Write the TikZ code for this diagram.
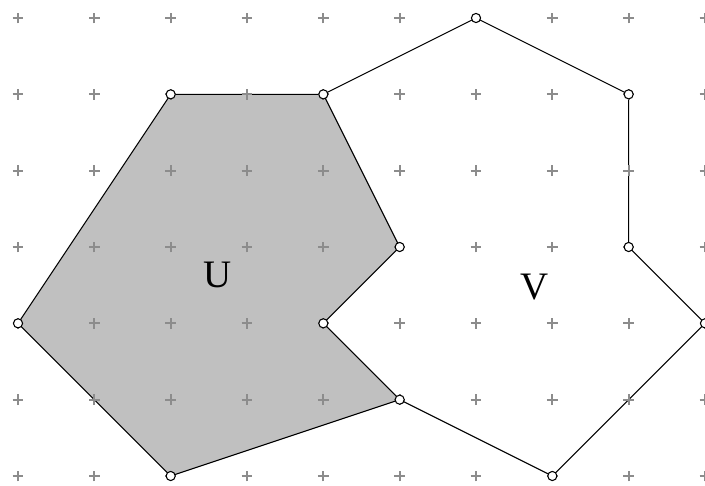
\documentclass[tikz,border=0pt]{standalone}
\usepackage{fontspec}
\setmainfont{Liberation Serif}
\definecolor{ufill}{RGB}{192,192,192}
\definecolor{plusgray}{RGB}{140,140,140}
\begin{document}
\begin{tikzpicture}[x=1cm,y=1cm,
  vtx/.style={circle,draw=black,fill=white,inner sep=0pt,minimum size=0.12cm,line width=0.4pt},
  edge/.style={draw=black,line width=0.4pt},
  plusmark/.style={draw=plusgray,line width=0.7pt},
  lbl/.style={font=\fontsize{14.5}{16}\selectfont,inner sep=0pt}]
\useasboundingbox (-0.236,-0.131) rectangle (9.0,6.236);
% vertex coordinates (column i, row from bottom)
\coordinate (a) at (2,5);
\coordinate (b) at (4,5);
\coordinate (c) at (5,3);
\coordinate (d) at (4,2);
\coordinate (e) at (5,1);
\coordinate (f) at (2,0);
\coordinate (g) at (0,2);
\coordinate (h) at (6,6);
\coordinate (k) at (8,5);
\coordinate (l) at (8,3);
\coordinate (m) at (9,2);
\coordinate (n) at (7,0);
% shaded region U
\fill[ufill] (a) -- (b) -- (c) -- (d) -- (e) -- (f) -- (g) -- cycle;
\path[edge] (a) -- (b) -- (c) -- (d) -- (e) -- (f) -- (g) -- cycle;
% region V
\path[edge] (b) -- (h) -- (k) -- (l) -- (m) -- (n) -- (e);
% grid of plus marks
\foreach \i in {0,...,9}{
  \foreach \j in {0,...,6}{
    \draw[plusmark] (\i-0.07,\j) -- (\i+0.07,\j);
    \draw[plusmark] (\i,\j-0.07) -- (\i,\j+0.07);
  }
}
% vertices
\foreach \p in {a,b,c,d,e,f,g,h,k,l,m,n}{
  \node[vtx] (v\p) at (\p) {};
}
% labels
\node[lbl] (U) at (2.62,2.63) {U};
\node[lbl] (V) at (6.77,2.48) {V};
\end{tikzpicture}
\end{document}
